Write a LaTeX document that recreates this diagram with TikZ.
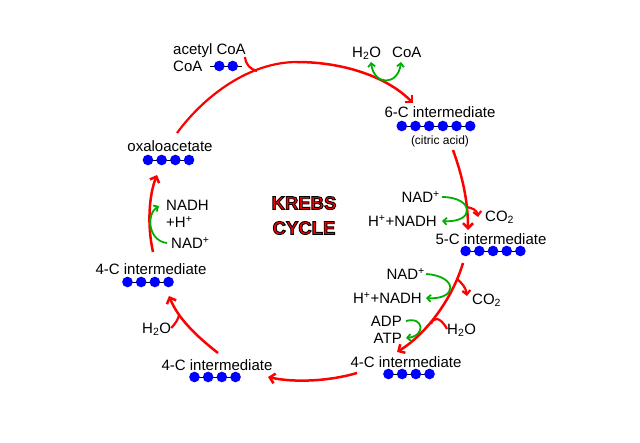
\documentclass[tikz,border=0pt]{standalone}
\usepackage{fontspec}
\setmainfont{Liberation Sans}
\usetikzlibrary{arrows.meta}
\definecolor{cycred}{RGB}{255,0,0}
\definecolor{stepgreen}{RGB}{0,176,0}
\definecolor{carbblue}{RGB}{0,0,255}
\newcommand\rimtext[1]{\special{pdf:literal direct 2 Tr 0.9 w 0 0 0 RG}#1\special{pdf:literal direct 0 Tr}}
\tikzset{
  lbl/.style={font=\fontsize{15}{17}\selectfont, inner sep=0pt, text height=10.7pt, text depth=0pt},
  sm/.style={font=\fontsize{12}{14}\selectfont, inner sep=0pt, text height=8.6pt, text depth=0pt},
  cyc/.style={draw=cycred, line width=2.5pt, -{Straight Barb[length=5pt, width=10pt]}},
  side/.style={draw=cycred, line width=2.2pt},
  grn/.style={draw=stepgreen, line width=1.8pt},
  gtip/.style={-{Straight Barb[length=3.5pt, width=7pt]}},
  bond/.style={draw=black, line width=0.8pt},
  carb/.style={fill=carbblue},
  krebs/.style={font=\fontsize{18.5}{25}\selectfont\bfseries, align=center, inner sep=0pt, text=cycred},
  carbons/.pic={
    \draw[bond] ({-(#1-1)*6.85},0) -- ({(#1-1)*6.85},0);
    \foreach \k in {1,...,#1}
      \fill[carb] ({(\k-1)*13.7-(#1-1)*6.85},0) circle (5.3pt);
  }
}

\begin{document}
\begin{tikzpicture}[x=1pt, y=-1pt]
\useasboundingbox[fill=white] (0,0) rectangle (640,442);

% labels and carbon chains
\node[lbl, anchor=west] (acoa) at (173,49) {acetyl CoA};
\node[lbl, anchor=west] (coa) at (173,66) {CoA};
\draw[bond] (210,66) -- (242,66);
\fill[carb] (219.3,66) circle (5.3pt) (232.7,66) circle (5.3pt);
\node[lbl, anchor=west] (wtop) at (352,52) {H\textsubscript{2}O};
\node[lbl, anchor=west] (coatop) at (392,52) {CoA};
\node[lbl] (c6) at (440,112) {6-C intermediate};
\pic at (436,126) {carbons=6};
\node[sm] (citric) at (440,140) {(citric acid)};
\node[lbl, anchor=east] (nadA) at (440,197) {NAD\textsuperscript{+}};
\node[lbl, anchor=east] (nadhA) at (437,221) {H\textsuperscript{+}+NADH};
\node[lbl, anchor=west] (co2A) at (485,216) {CO\textsubscript{2}};
\node[lbl] (c5) at (491,239) {5-C intermediate};
\pic at (493,251) {carbons=5};
\node[lbl, anchor=east] (nadB) at (425,274) {NAD\textsuperscript{+}};
\node[lbl, anchor=east] (nadhB) at (422,298) {H\textsuperscript{+}+NADH};
\node[lbl, anchor=west] (co2B) at (472,299) {CO\textsubscript{2}};
\node[lbl, anchor=east] (adp) at (402,321) {ADP};
\node[lbl, anchor=east] (atp) at (402,338) {ATP};
\node[lbl, anchor=west] (wB) at (447,329) {H\textsubscript{2}O};
\node[lbl] (c4a) at (406,362) {4-C intermediate};
\pic at (409,374) {carbons=4};
\node[lbl] (c4b) at (217,365) {4-C intermediate};
\pic at (215,377) {carbons=4};
\node[lbl, anchor=west] (wC) at (142,328) {H\textsubscript{2}O};
\node[lbl] (c4c) at (151,269) {4-C intermediate};
\pic at (148,282) {carbons=4};
\node[lbl, anchor=west] (nadhC) at (166,205) {NADH};
\node[lbl, anchor=west] (hC) at (166,222) {+H\textsuperscript{+}};
\node[lbl, anchor=west] (nadC) at (171,243) {NAD\textsuperscript{+}};
\node[lbl] (oxa) at (170,146) {oxaloacetate};
\pic at (168.5,160) {carbons=4};
\node[krebs] (title) at (304,215.5) {\rimtext{KREBS}\\\rimtext{CYCLE}};

% ends of the cycle arrows
\coordinate (oxaout) at (177,133);
\coordinate (arctop) at (297,62);
\coordinate (c6in) at (413,103);
\coordinate (c6out) at (453,150);
\coordinate (c5in) at (468,230);
\coordinate (c5out) at (463,263);
\coordinate (c4ain) at (397,352);
\coordinate (c4aout) at (357,373);
\coordinate (c4bin) at (268,377);
\coordinate (c4bout) at (218,353);
\coordinate (c4cin) at (169,296);
\coordinate (c4cout) at (153,252);
\coordinate (oxain) at (157,175);

% the cycle
\draw[side] (oxaout) .. controls (205,95) and (250,62) .. (arctop);
\draw[cyc] (arctop) .. controls (340,62) and (385,75) .. (c6in);
\draw[cyc] (c6out) .. controls (462,175) and (468,200) .. (c5in);
\draw[cyc] (c5out) .. controls (452,300) and (425,335) .. (c4ain);
\draw[cyc] (c4aout) .. controls (330,381) and (295,383) .. (c4bin);
\draw[cyc] (c4bout) .. controls (195,335) and (178,318) .. (c4cin);
\draw[cyc] (c4cout) .. controls (147,225) and (149,195) .. (oxain);

% side branches in and out
\draw[side] (245,57) .. controls (246,65) and (250,69) .. (257,71);
\draw[side, -{Straight Barb[length=4pt, width=8pt]}] (467,207) .. controls (472,208) and (477,210) .. (478,217);
\draw[side, -{Straight Barb[length=4pt, width=8pt]}] (457,279) .. controls (462,283) and (466,288) .. (467,296);
\draw[side] (wB.west) .. controls (440,316) and (433,317) .. (431,324);
\draw[side] (wC.east) .. controls (176,323) and (179,318) .. (179,314);

% green co-reactions
\draw[grn, {Straight Barb[length=3.5pt, width=7pt]}-{Straight Barb[length=3.5pt, width=7pt]}]
  (371,62) .. controls (374,86) and (398,86) .. (401,62);
\draw[grn, gtip] ([xshift=2pt]nadA.east) .. controls (474,197) and (476,223) .. ([xshift=5pt]nadhA.east);
\draw[grn, gtip] ([xshift=1pt]nadB.east) .. controls (458,276) and (458,300) .. ([xshift=4pt]nadhB.east);
\draw[grn, gtip] ([xshift=4pt]adp.east) .. controls (424,316) and (426,336) .. ([xshift=4pt]atp.east);
\draw[grn, gtip] ([xshift=-4pt]nadC.west) .. controls (148,241) and (146,214) .. (159,206);
\end{tikzpicture}
\end{document}
